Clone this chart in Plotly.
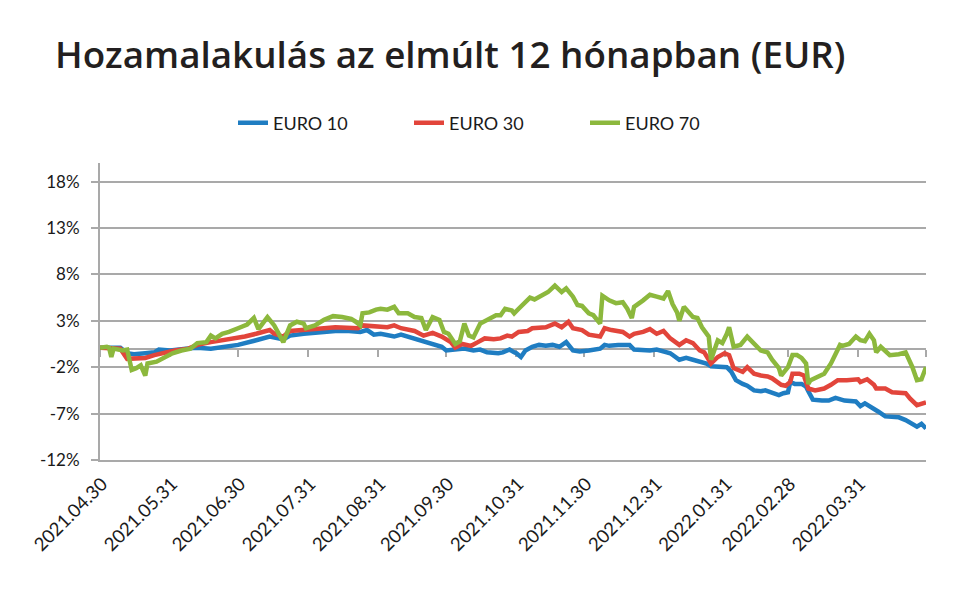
import plotly.graph_objects as go

# ---------------- data ----------------
dates_euro70 = [
    "2021-04-30", "2021-05-03", "2021-05-04", "2021-05-05", "2021-05-06", "2021-05-10", "2021-05-12",
    "2021-05-14", "2021-05-16", "2021-05-18", "2021-05-20", "2021-05-21", "2021-05-25", "2021-05-29",
    "2021-06-01", "2021-06-05", "2021-06-09", "2021-06-12", "2021-06-16", "2021-06-18", "2021-06-20",
    "2021-06-23", "2021-06-26", "2021-06-30", "2021-07-04", "2021-07-07", "2021-07-09", "2021-07-13",
    "2021-07-16", "2021-07-20", "2021-07-23", "2021-07-26", "2021-07-29", "2021-07-30", "2021-08-03",
    "2021-08-07", "2021-08-11", "2021-08-15", "2021-08-19", "2021-08-21", "2021-08-23", "2021-08-24",
    "2021-08-27", "2021-08-30", "2021-09-01", "2021-09-04", "2021-09-07", "2021-09-09", "2021-09-13",
    "2021-09-16", "2021-09-19", "2021-09-21", "2021-09-24", "2021-09-27", "2021-09-29", "2021-10-01",
    "2021-10-04", "2021-10-06", "2021-10-08", "2021-10-10", "2021-10-12", "2021-10-15", "2021-10-18",
    "2021-10-22", "2021-10-24", "2021-10-26", "2021-10-29", "2021-10-30", "2021-11-01", "2021-11-04",
    "2021-11-06", "2021-11-08", "2021-11-11", "2021-11-14", "2021-11-17", "2021-11-20", "2021-11-22",
    "2021-11-25", "2021-11-27", "2021-11-29", "2021-12-02", "2021-12-04", "2021-12-07", "2021-12-08",
    "2021-12-11", "2021-12-14", "2021-12-17", "2021-12-19", "2021-12-21", "2021-12-22", "2021-12-26",
    "2021-12-29", "2022-01-01", "2022-01-04", "2022-01-06", "2022-01-08", "2022-01-10", "2022-01-11",
    "2022-01-13", "2022-01-15", "2022-01-17", "2022-01-19", "2022-01-21", "2022-01-24", "2022-01-25",
    "2022-01-28", "2022-01-30", "2022-02-01", "2022-02-02", "2022-02-04", "2022-02-07", "2022-02-10",
    "2022-02-13", "2022-02-16", "2022-02-19", "2022-02-21", "2022-02-24", "2022-02-25", "2022-02-28",
    "2022-03-01", "2022-03-02", "2022-03-04", "2022-03-06", "2022-03-08", "2022-03-09", "2022-03-10",
    "2022-03-12", "2022-03-16", "2022-03-19", "2022-03-21", "2022-03-23", "2022-03-24", "2022-03-27",
    "2022-03-30", "2022-04-01", "2022-04-03", "2022-04-05", "2022-04-07", "2022-04-08", "2022-04-10",
    "2022-04-12", "2022-04-14", "2022-04-18", "2022-04-21", "2022-04-24", "2022-04-26", "2022-04-28",
    "2022-04-30",
]
euro70 = [
    0.1, 0.2, 0.1, -0.9, 0.0, -0.2, -0.1,
    -2.3, -2.1, -1.8, -2.9, -1.6, -1.4, -0.9,
    -0.5, -0.2, 0.0, 0.6, 0.7, 1.4, 1.1,
    1.6, 1.8, 2.2, 2.6, 3.3, 2.1, 3.4,
    2.5, 0.7, 2.5, 2.9, 2.7, 2.2, 2.5,
    3.1, 3.5, 3.4, 3.2, 2.9, 2.5, 3.8,
    3.9, 4.2, 4.3, 4.2, 4.5, 3.8, 3.8,
    3.4, 3.3, 2.0, 3.4, 3.1, 1.8, 1.6,
    0.5, 0.8, 2.7, 1.4, 1.2, 2.7, 3.1,
    3.6, 3.6, 4.3, 4.1, 3.8, 4.3, 5.0,
    5.5, 5.3, 5.7, 6.1, 6.8, 6.1, 6.5,
    5.6, 4.7, 4.6, 3.8, 3.6, 2.7, 5.7,
    5.2, 4.9, 5.0, 4.3, 3.3, 4.5, 5.2,
    5.8, 5.6, 5.4, 6.2, 4.8, 3.9, 3.0,
    4.5, 4.0, 3.4, 3.3, 2.3, 1.3, -1.2,
    0.9, 0.6, 1.6, 2.3, 0.2, 0.4, 1.3,
    0.5, -0.2, -0.4, -1.2, -2.1, -2.9, -2.0,
    -1.3, -0.7, -0.7, -1.0, -1.6, -3.8, -3.4,
    -3.2, -2.7, -1.6, -0.5, 0.4, 0.3, 0.5,
    1.3, 0.9, 0.8, 1.6, 0.9, -0.4, 0.2,
    -0.3, -0.7, -0.6, -0.4, -2.0, -3.4, -3.3,
    -2.0,
]

dates_euro30 = [
    "2021-04-30", "2021-05-04", "2021-05-07", "2021-05-09", "2021-05-12", "2021-05-15", "2021-05-20",
    "2021-05-24", "2021-05-29", "2021-06-02", "2021-06-08", "2021-06-12", "2021-06-18", "2021-06-24",
    "2021-06-29", "2021-07-03", "2021-07-08", "2021-07-14", "2021-07-16", "2021-07-20", "2021-07-23",
    "2021-07-29", "2021-08-02", "2021-08-07", "2021-08-12", "2021-08-18", "2021-08-22", "2021-08-24",
    "2021-08-30", "2021-09-04", "2021-09-07", "2021-09-10", "2021-09-16", "2021-09-20", "2021-09-24",
    "2021-09-28", "2021-10-02", "2021-10-04", "2021-10-07", "2021-10-11", "2021-10-14", "2021-10-17",
    "2021-10-21", "2021-10-24", "2021-10-27", "2021-10-29", "2021-11-01", "2021-11-05", "2021-11-07",
    "2021-11-10", "2021-11-13", "2021-11-17", "2021-11-20", "2021-11-23", "2021-11-25", "2021-11-29",
    "2021-12-02", "2021-12-07", "2021-12-09", "2021-12-12", "2021-12-17", "2021-12-20", "2021-12-22",
    "2021-12-26", "2021-12-29", "2022-01-01", "2022-01-04", "2022-01-07", "2022-01-11", "2022-01-14",
    "2022-01-17", "2022-01-20", "2022-01-22", "2022-01-25", "2022-01-28", "2022-01-31", "2022-02-02",
    "2022-02-04", "2022-02-08", "2022-02-10", "2022-02-13", "2022-02-16", "2022-02-19", "2022-02-21",
    "2022-02-25", "2022-02-27", "2022-03-01", "2022-03-02", "2022-03-05", "2022-03-07", "2022-03-09",
    "2022-03-12", "2022-03-16", "2022-03-19", "2022-03-22", "2022-03-26", "2022-03-31", "2022-04-01",
    "2022-04-04", "2022-04-07", "2022-04-08", "2022-04-12", "2022-04-15", "2022-04-21", "2022-04-23",
    "2022-04-26", "2022-04-28", "2022-04-30",
]
euro30 = [
    0.1, 0.1, 0.0, 0.0, -1.1, -1.1, -1.0,
    -0.7, -0.4, -0.2, 0.0, 0.4, 0.7, 0.9,
    1.1, 1.3, 1.6, 2.0, 1.6, 1.3, 1.9,
    2.0, 2.0, 2.2, 2.3, 2.2, 2.2, 2.5,
    2.4, 2.3, 2.5, 2.2, 1.9, 1.4, 1.7,
    1.3, 0.7, 0.1, 0.5, 0.3, 0.7, 1.1,
    1.0, 1.1, 1.4, 1.3, 1.8, 1.9, 2.2,
    2.2, 2.3, 2.7, 2.3, 2.9, 2.2, 2.0,
    1.5, 1.3, 2.2, 2.0, 1.8, 1.3, 1.6,
    1.8, 2.1, 1.6, 1.9, 1.1, 0.4, 0.9,
    0.6, -0.2, -0.4, -1.6, -0.9, -0.5, -0.7,
    -2.1, -2.5, -2.0, -2.7, -2.9, -3.0, -3.2,
    -3.9, -4.0, -3.6, -2.7, -2.7, -2.9, -4.3,
    -4.5, -4.3, -3.9, -3.4, -3.4, -3.3, -3.6,
    -3.3, -3.9, -4.3, -4.3, -4.7, -4.8, -5.4,
    -6.1, -5.9, -5.8,
]

dates_euro10 = [
    "2021-04-30", "2021-05-07", "2021-05-09", "2021-05-12", "2021-05-15", "2021-05-20", "2021-05-24",
    "2021-05-26", "2021-05-31", "2021-06-07", "2021-06-12", "2021-06-18", "2021-06-24", "2021-06-30",
    "2021-07-08", "2021-07-14", "2021-07-20", "2021-07-23", "2021-07-29", "2021-08-05", "2021-08-12",
    "2021-08-18", "2021-08-23", "2021-08-26", "2021-08-29", "2021-09-01", "2021-09-04", "2021-09-07",
    "2021-09-10", "2021-09-16", "2021-09-22", "2021-09-28", "2021-09-30", "2021-10-03", "2021-10-08",
    "2021-10-12", "2021-10-15", "2021-10-18", "2021-10-23", "2021-10-25", "2021-10-28", "2021-10-30",
    "2021-10-31", "2021-11-02", "2021-11-04", "2021-11-07", "2021-11-10", "2021-11-13", "2021-11-16",
    "2021-11-19", "2021-11-22", "2021-11-25", "2021-11-28", "2021-12-02", "2021-12-07", "2021-12-09",
    "2021-12-11", "2021-12-15", "2021-12-20", "2021-12-22", "2021-12-27", "2021-12-29", "2022-01-01",
    "2022-01-04", "2022-01-07", "2022-01-11", "2022-01-14", "2022-01-17", "2022-01-20", "2022-01-23",
    "2022-01-25", "2022-01-29", "2022-02-01", "2022-02-03", "2022-02-05", "2022-02-08", "2022-02-10",
    "2022-02-13", "2022-02-16", "2022-02-18", "2022-02-21", "2022-02-24", "2022-02-26", "2022-02-28",
    "2022-03-01", "2022-03-03", "2022-03-06", "2022-03-08", "2022-03-09", "2022-03-11", "2022-03-15",
    "2022-03-18", "2022-03-21", "2022-03-25", "2022-03-30", "2022-04-01", "2022-04-03", "2022-04-06",
    "2022-04-09", "2022-04-12", "2022-04-15", "2022-04-18", "2022-04-21", "2022-04-23", "2022-04-26",
    "2022-04-28", "2022-04-30",
]
euro10 = [
    0.1, 0.1, 0.1, -0.5, -0.6, -0.5, -0.4,
    -0.1, -0.2, 0.0, 0.1, 0.0, 0.2, 0.4,
    0.9, 1.3, 1.0, 1.4, 1.6, 1.8, 1.9,
    1.9, 1.8, 2.0, 1.5, 1.6, 1.5, 1.3,
    1.5, 1.1, 0.7, 0.2, -0.2, -0.1, 0.0,
    -0.2, -0.1, -0.4, -0.5, -0.4, -0.1, -0.4,
    -0.5, -0.9, -0.2, 0.2, 0.4, 0.3, 0.4,
    0.2, 0.7, -0.2, -0.3, -0.2, 0.0, 0.4,
    0.3, 0.4, 0.4, -0.1, -0.2, -0.2, -0.1,
    -0.3, -0.5, -1.2, -1.0, -1.2, -1.4, -1.6,
    -1.9, -1.9, -2.0, -2.5, -3.4, -3.8, -4.0,
    -4.5, -4.6, -4.5, -4.8, -5.0, -4.8, -4.7,
    -3.6, -3.8, -3.8, -4.1, -4.6, -5.5, -5.6,
    -5.6, -5.3, -5.6, -5.7, -6.2, -5.9, -6.3,
    -6.8, -7.3, -7.3, -7.4, -7.7, -8.0, -8.4,
    -8.1, -8.6,
]

series_names = ["EURO 10", "EURO 30", "EURO 70"]
series_colors = ["#1f7dc2", "#e2453b", "#8cb83d"]

label_dates = ["2021-04-30", "2021-05-31", "2021-06-30", "2021-07-31", "2021-08-31", "2021-09-30",
               "2021-10-31", "2021-11-30", "2021-12-31", "2022-01-31", "2022-02-28", "2022-03-31"]
label_texts = [d.replace("-", ".") for d in label_dates]
tick_dates = label_dates + ["2022-04-30"]

y_ticks = [-12, -7, -2, 3, 8, 13, 18]
y_labels = [f"{v}%" for v in y_ticks]

# ---------------- figure ----------------
FONT = "Lato, 'Open Sans', sans-serif"
GRID = "#a9a9a9"

fig = go.Figure()
for name, xs, ys, col in zip(series_names,
                             [dates_euro10, dates_euro30, dates_euro70],
                             [euro10, euro30, euro70],
                             series_colors):
    fig.add_trace(go.Scatter(x=xs, y=ys, mode="lines", name=name,
                             line=dict(color=col, width=4.5)))

# invisible helper trace so the secondary (tick-mark) axis is drawn
fig.add_trace(go.Scatter(x=[tick_dates[0], tick_dates[-1]], y=[None, None], xaxis="x2",
                         showlegend=False, hoverinfo="skip", mode="lines"))

fig.update_layout(
    width=980, height=591,
    margin=dict(l=100, r=54, t=163, b=131),
    paper_bgcolor="white", plot_bgcolor="white",
    font=dict(family=FONT, size=17, color="#1a1a1a"),
    title=dict(text="Hozamalakulás az elmúlt 12 hónapban (EUR)",
               font=dict(family="'Open Sans', sans-serif", size=36.8, color="#231f20", weight=600),
               x=55 / 980, xanchor="left", xref="container",
               y=1 - 55 / 591, yanchor="middle", yref="container"),
    legend=dict(orientation="h", x=(233 - 100) / 826, xanchor="left",
                y=(460 - 123) / 297, yanchor="middle",
                font=dict(family=FONT, size=18, color="#1a1a1a"),
                entrywidth=131, entrywidthmode="pixels",
                bgcolor="rgba(0,0,0,0)"),
    xaxis=dict(type="date", range=[tick_dates[0], tick_dates[-1]],
               tickvals=label_dates, ticktext=label_texts, tickangle=-45,
               ticks="", showgrid=False, showline=True, linecolor=GRID, linewidth=2,
               zeroline=False, tickfont=dict(family=FONT, size=18.5, color="#1a1a1a"),
               ticklabelshift=2, ticklabelstandoff=4),
    xaxis2=dict(type="date", overlaying="x", matches="x", anchor="free",
                position=12 / 32, side="bottom",
                tickvals=tick_dates, showticklabels=False, ticks="outside",
                ticklen=7, tickwidth=2, tickcolor=GRID, showgrid=False,
                showline=False, zeroline=False, layer="below traces"),
    yaxis=dict(range=[-12, 20], tickvals=y_ticks, ticktext=y_labels,
               showgrid=True, gridcolor=GRID, gridwidth=2,
               showline=True, linecolor=GRID, linewidth=2,
               ticks="outside", ticklen=7, tickwidth=2, tickcolor=GRID,
               zeroline=True, zerolinecolor=GRID, zerolinewidth=2,
               tickfont=dict(family=FONT, size=17, color="#1a1a1a"),
               ticklabelstandoff=8),
)

fig.write_html("out.html")
